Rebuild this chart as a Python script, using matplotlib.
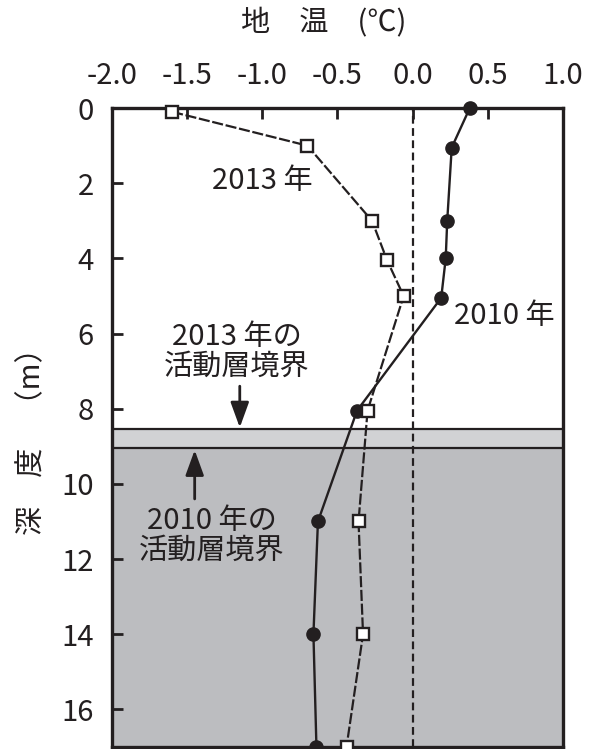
import numpy as np
import matplotlib.pyplot as plt

plt.rcParams['font.family'] = ['Noto Sans CJK JP', 'DejaVu Sans']

INK = '#231f20'

# ---- ground temperature profiles (deg C vs depth m) ----
depth_2010 = [0.0, 1.05, 3.0, 4.0, 5.05, 8.05, 11.0, 14.0, 17.0]
temp_2010 = [0.38, 0.26, 0.23, 0.22, 0.19, -0.37, -0.63, -0.66, -0.64]

depth_2013 = [0.1, 1.0, 3.0, 4.05, 5.0, 8.05, 11.0, 14.0, 17.0]
temp_2013 = [-1.60, -0.70, -0.27, -0.17, -0.06, -0.30, -0.36, -0.33, -0.44]

# active layer boundaries
boundary_2013 = 8.55
boundary_2010 = 9.05

x_ticks = [-2.0, -1.5, -1.0, -0.5, 0.0, 0.5, 1.0]
y_ticks = [0, 2, 4, 6, 8, 10, 12, 14, 16]

fig = plt.figure(figsize=(5.97, 7.49), dpi=100)
ax = fig.add_axes([0.1876, 0.0027, 0.7554, 0.853])

ax.set_xlim(-2.0, 1.0)
ax.set_ylim(17, 0)

# shaded layers
ax.axhspan(boundary_2013, boundary_2010, color='#d1d2d4', zorder=0)
ax.axhspan(boundary_2010, 17, color='#bcbdc0', zorder=0)
ax.axhline(boundary_2013, color=INK, lw=1.6, zorder=1)
ax.axhline(boundary_2010, color=INK, lw=1.6, zorder=1)

# zero line
ax.axvline(0.0, color=INK, lw=1.6, ls=(0, (3.5, 2)), zorder=1)

ax.plot(temp_2013, depth_2013, color=INK, lw=1.6, ls=(0, (5, 1.2)),
        marker='s', ms=8, mfc='white', mec=INK, mew=1.7, zorder=4, clip_on=False)
ax.plot(temp_2010, depth_2010, color=INK, lw=1.7, ls='-',
        marker='o', ms=9.5, mfc=INK, mec=INK, zorder=3, clip_on=False)

# labels inside the plot
fs = 21
ax.text(-1.0, 1.94, '2013 年', fontsize=fs, color=INK, ha='center', va='center')
ax.text(0.61, 5.53, '2010 年', fontsize=fs, color=INK, ha='center', va='center')
ax.text(-1.17, 6.49, '2013 年の\n活動層境界', fontsize=fs, color=INK,
        ha='center', va='center', linespacing=1.0)
ax.text(-1.337, 11.38, '2010 年の\n活動層境界', fontsize=fs, color=INK,
        ha='center', va='center', linespacing=1.0)

arrow_style = dict(arrowstyle='-|>,head_length=0.55,head_width=0.2',
                   color=INK, lw=2, mutation_scale=28, shrinkA=0, shrinkB=0)
ax.annotate('', xy=(-1.15, 8.5), xytext=(-1.15, 7.4), arrowprops=arrow_style)
ax.annotate('', xy=(-1.45, 9.1), xytext=(-1.45, 10.4), arrowprops=arrow_style)

# axes styling
ax.xaxis.tick_top()
ax.set_xticks(x_ticks)
ax.set_xticklabels([f'{v:.1f}' for v in x_ticks])
ax.set_yticks(y_ticks)
ax.set_yticklabels([str(v) for v in y_ticks])
ax.tick_params(axis='both', direction='in', length=8, width=2, color=INK,
               labelsize=fs, labelcolor=INK)
ax.tick_params(axis='x', pad=12)
ax.tick_params(axis='y', pad=13)
for s in ax.spines.values():
    s.set_linewidth(2.4)
    s.set_color(INK)

fig.text(0.543, 0.97, '地　温　(℃)', fontsize=fs, color=INK, ha='center', va='center')
fig.text(0.054, 0.4206, '深　度　（m）', fontsize=fs, color=INK, ha='center',
         va='center', rotation=90)

fig.savefig('out.png', dpi=100)
